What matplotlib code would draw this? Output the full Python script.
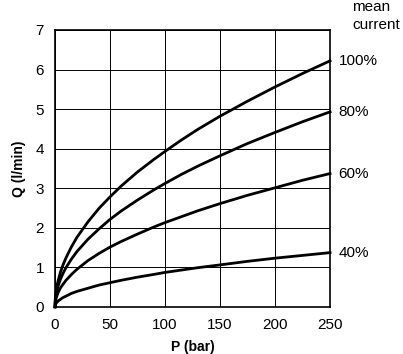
import matplotlib; matplotlib.use("Agg")
import matplotlib.pyplot as plt

plt.rcParams["font.family"] = ["Liberation Sans", "DejaVu Sans"]

# pressure (bar) and flow (l/min), one list per mean current
P = [0, 0.25, 1, 2, 3, 5, 7, 10, 15, 20, 30, 40, 50, 60, 75, 90, 100, 115, 130, 150, 175, 200, 225, 250]
q100 = [0, 0.20, 0.39, 0.56, 0.68, 0.88, 1.04, 1.24, 1.52, 1.76, 2.15, 2.49, 2.78, 3.05, 3.41, 3.73,
        3.93, 4.22, 4.49, 4.82, 5.20, 5.56, 5.90, 6.22]
q80 = [0, 0.16, 0.31, 0.44, 0.54, 0.70, 0.83, 0.99, 1.21, 1.40, 1.71, 1.97, 2.21, 2.42, 2.70, 2.96,
       3.12, 3.35, 3.56, 3.82, 4.13, 4.41, 4.68, 4.93]
q60 = [0, 0.11, 0.21, 0.30, 0.37, 0.48, 0.56, 0.67, 0.82, 0.95, 1.17, 1.35, 1.51, 1.65, 1.84, 2.02,
       2.13, 2.28, 2.43, 2.61, 2.82, 3.01, 3.20, 3.37]
q40 = [0, 0.04, 0.09, 0.12, 0.15, 0.19, 0.23, 0.27, 0.34, 0.39, 0.47, 0.55, 0.61, 0.67, 0.75, 0.82,
       0.87, 0.93, 0.99, 1.06, 1.15, 1.23, 1.30, 1.37]
labels = ["100%", "80%", "60%", "40%"]
xticks = [0, 50, 100, 150, 200, 250]
yticks = [0, 1, 2, 3, 4, 5, 6, 7]

fig = plt.figure(figsize=(4.03, 3.54), dpi=100)
ax = fig.add_axes([0.1365, 0.1333, 0.6825, 0.782])
for q, lab in zip([q100, q80, q60, q40], labels):
    ax.plot(P, q, color="black", lw=2.0, solid_joinstyle="round", clip_on=False)
    ax.annotate(lab, xy=(P[-1], q[-1]), xytext=(6, 0), textcoords="offset points",
                ha="left", va="center", fontsize=11)

ax.set_xlim(0, 250); ax.set_ylim(0, 7)
ax.set_xticks(xticks); ax.set_yticks(yticks)
ax.grid(True, color="black", lw=0.7)
ax.tick_params(length=0, labelsize=11)
ax.tick_params(axis="x", pad=8)
ax.tick_params(axis="y", pad=8)
for s in ax.spines.values(): s.set_linewidth(1.2)
ax.set_xlabel("P (bar)", fontsize=10, fontweight="bold", labelpad=6)
ax.set_ylabel("Q (l/min)", fontsize=10, fontweight="bold", labelpad=7)
fig.text(352/403, 1 - 7/354, "mean", ha="left", va="center", fontsize=11)
fig.text(352/403, 1 - 25/354, "current", ha="left", va="center", fontsize=11)
fig.savefig("out.png", dpi=100)
